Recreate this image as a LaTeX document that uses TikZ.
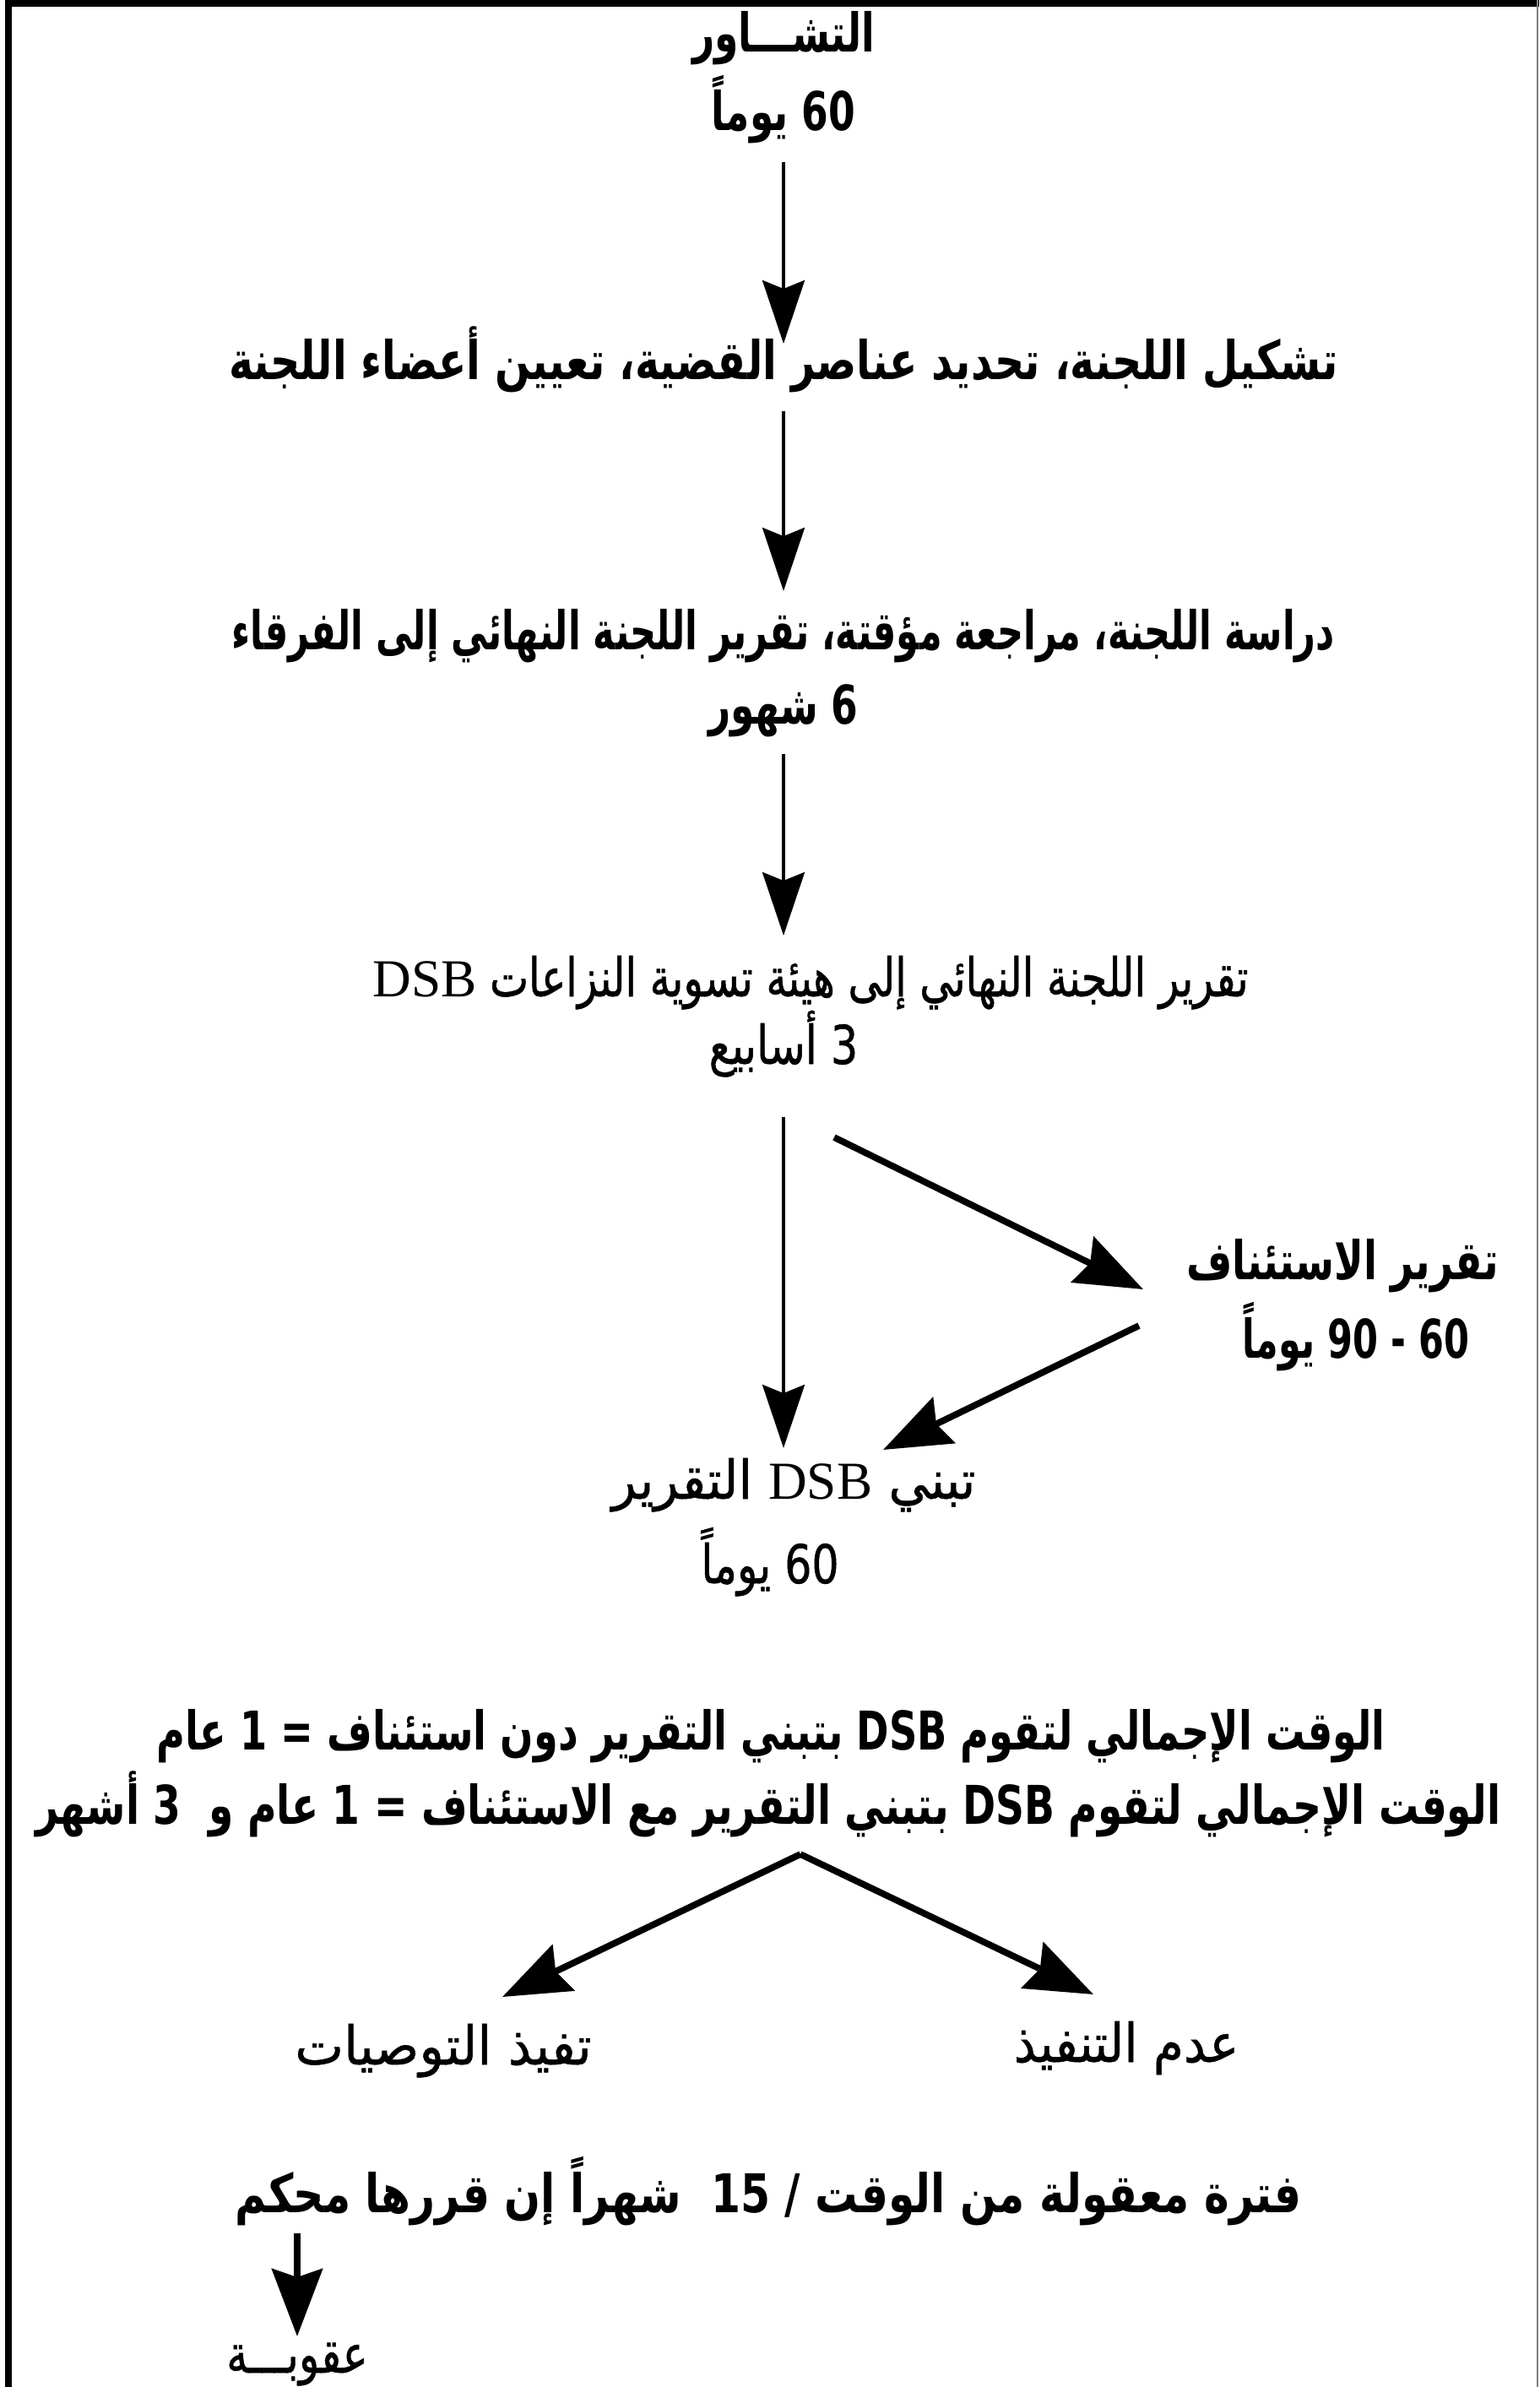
\documentclass[tikz,border=0pt]{standalone}
\usepackage{fontspec}
\usetikzlibrary{arrows.meta}
\TeXXeTstate=1
\newfontfamily\arabicfont[Script=Arabic]{DejaVu Sans}
\newfontfamily\latinserif{Liberation Serif}
\newcommand{\rl}[1]{\beginR #1\endR}
\newcommand{\dsb}{{\latinserif DSB}}
\tikzset{
  heavy/.style={font=\fontsize{18}{20}\selectfont\arabicfont\bfseries\addfontfeatures{FakeStretch=#1}, inner sep=0pt, anchor=base},
  heavy/.default=0.72,
  light/.style={font=\fontsize{18}{20}\selectfont\arabicfont\addfontfeatures{FakeStretch=#1,FakeBold=0.8}, inner sep=0pt, anchor=base},
  light/.default=0.8,
  varr/.style={-{Stealth[length=7.5mm,width=5mm,inset=1mm]}, line width=1.1pt},
  darr/.style={-{Stealth[length=8mm,width=6mm,inset=1mm]}, line width=2.2pt}
}
\begin{document}
\begin{tikzpicture}
\useasboundingbox (0,0) rectangle (18.23,-28.27);
% frame
\draw[line width=2.5pt] (0.10,-28.27) -- (0.10,-0.035) -- (18.23,-0.035);
\draw[gray, line width=0.6pt] (18.21,0) -- (18.21,-28.27);
% steps
\node[heavy] (tasha) at (9.28,-0.62) {\rl{التشـــاور}};
\node[heavy] (d60a) at (9.28,-1.55) {\rl{60 يوماً}};
\node[heavy=0.773] (lajna) at (9.28,-4.50) {\rl{تشكيل اللجنة، تحديد عناصر القضية، تعيين أعضاء اللجنة}};
\node[heavy=0.682] (dirasa) at (9.28,-7.70) {\rl{دراسة اللجنة، مراجعة مؤقتة، تقرير اللجنة النهائي إلى الفرقاء}};
\node[heavy] (shuhur) at (9.28,-8.57) {\rl{6 شهور}};
\node[light=0.773] (taqrir) at (9.60,-11.80) {\rl{تقرير اللجنة النهائي إلى هيئة تسوية النزاعات \dsb}};
\node[light] (asabi) at (9.28,-12.60) {\rl{3 أسابيع}};
\node[heavy=0.74] (istinaf) at (15.90,-15.15) {\rl{تقرير الاستئناف}};
\node[heavy=0.68] (d6090) at (16.06,-16.08) {\rl{60 - 90 يوماً}};
\node[light=0.95] (tabanni) at (9.40,-17.75) {\rl{تبني \dsb\ التقرير}};
\node[light] (d60b) at (9.12,-18.75) {\rl{60 يوماً}};
\node[heavy=0.732] (total1) at (9.13,-20.72) {\rl{الوقت الإجمالي لتقوم DSB بتبني التقرير دون استئناف = 1 عام}};
\node[heavy=0.745] (total2) at (9.10,-21.60) {\rl{الوقت الإجمالي لتقوم DSB بتبني التقرير مع الاستئناف = 1 عام و\ \ 3 أشهر}};
\node[light=0.97] (tanfidh) at (5.25,-24.45) {\rl{تفيذ التوصيات}};
\node[light=0.92] (adam) at (13.34,-24.42) {\rl{عدم التنفيذ}};
\node[heavy=0.797] (fatra) at (9.10,-26.20) {\rl{فترة معقولة من الوقت / 15\ \ شهراً إن قررها محكم}};
\node[light] (uquba) at (3.52,-28.10) {\rl{عقوبـــة}};
\coordinate (split) at ([shift={(0.38,-0.36)}]total2.base);
% arrows
\draw[varr] ([yshift=-0.37cm]d60a.base) -- ([yshift=0.43cm]lajna.base);
\draw[varr] ([yshift=-0.37cm]lajna.base) -- ([yshift=0.70cm]dirasa.base);
\draw[varr] ([yshift=-0.36cm]shuhur.base) -- ([yshift=0.72cm]shuhur.base |- taqrir.base);
\draw[varr] ([yshift=-0.63cm]asabi.base) -- ([yshift=0.60cm]asabi.base |- tabanni.base);
\draw[darr] ([shift={(0.60,-0.87)}]asabi.base) -- ([shift={(-2.36,-0.12)}]istinaf.base);
\draw[darr] ([shift={(-2.57,0.38)}]d6090.base) -- ([shift={(1.06,0.58)}]tabanni.base);
\draw[darr] (split) -- ([shift={(0.70,0.80)}]tanfidh.base);
\draw[darr] (split) -- ([shift={(-0.39,0.80)}]adam.base);
\draw[darr] ([yshift=-0.25cm]uquba.base |- fatra.base) -- ([yshift=0.43cm]uquba.base);
\end{tikzpicture}
\end{document}
